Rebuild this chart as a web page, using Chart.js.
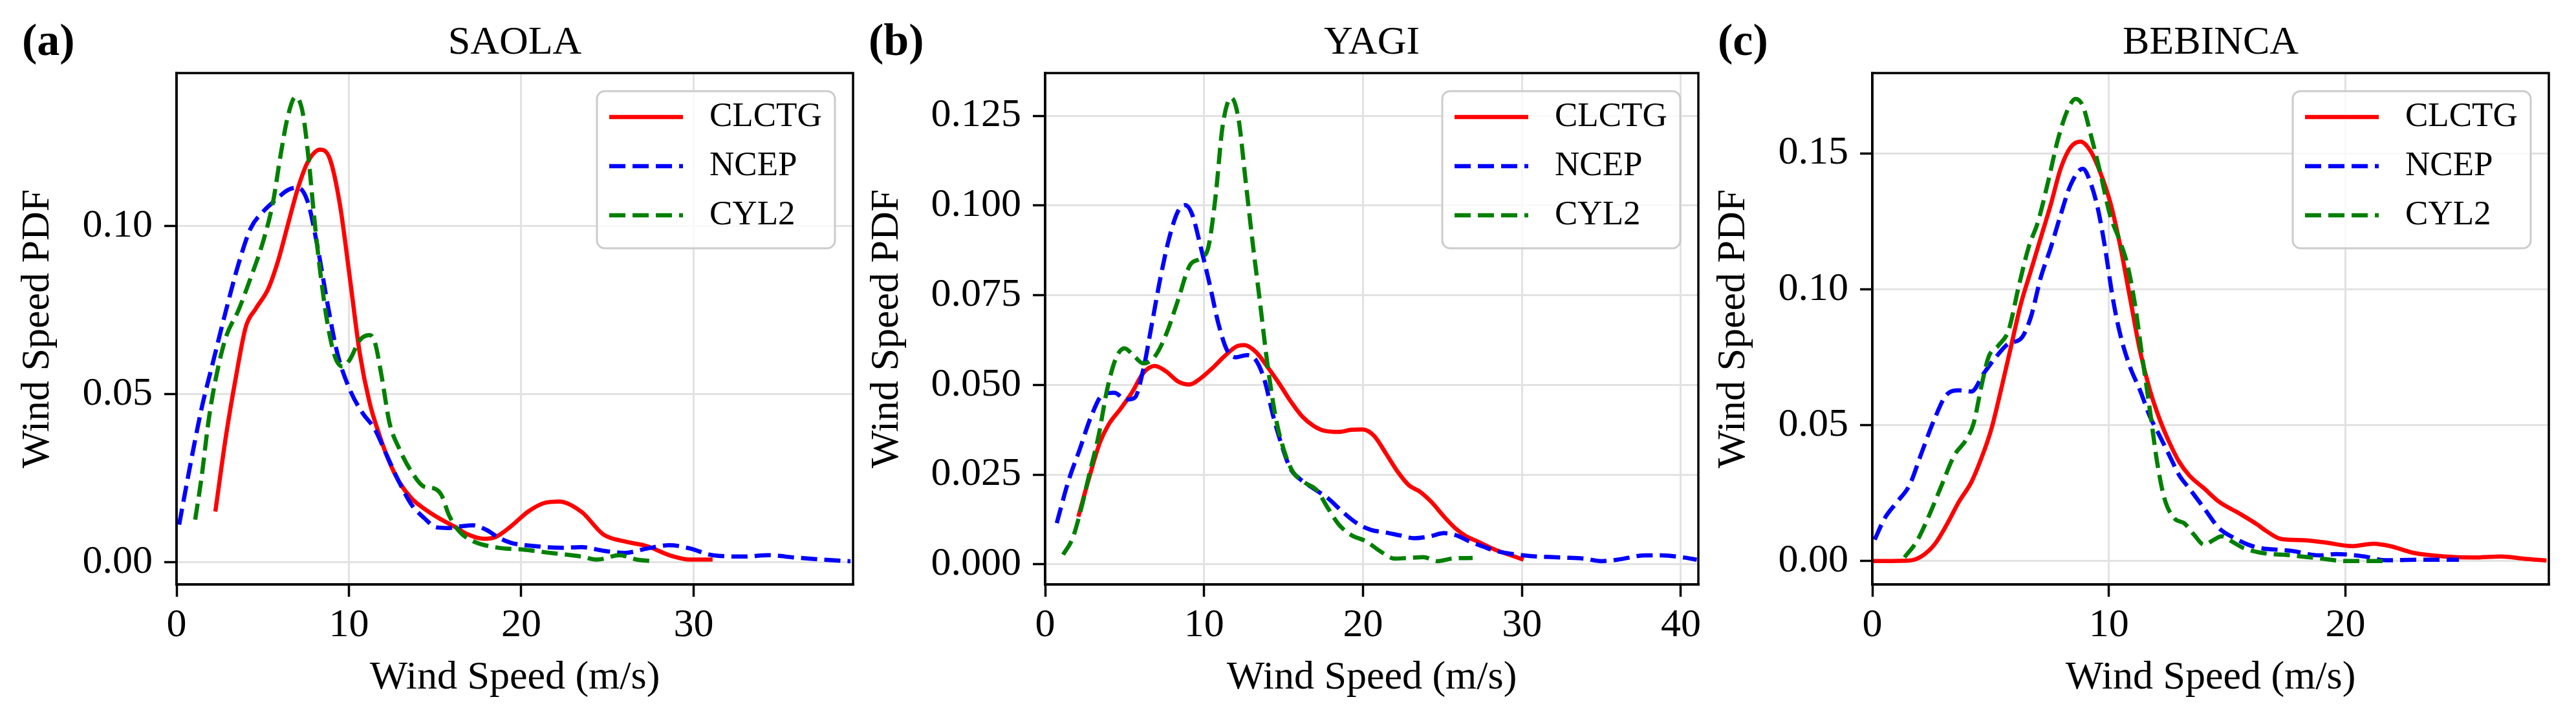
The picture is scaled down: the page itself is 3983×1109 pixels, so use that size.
<!DOCTYPE html>
<html>
<head>
<meta charset="utf-8">
<title>Wind Speed PDF</title>
<script src="https://cdn.jsdelivr.net/npm/chart.js@4.4.1/dist/chart.umd.min.js"></script>
<style>
  html, body { margin: 0; padding: 0; background: #fff; }
  body { width: 3983px; height: 1109px; position: relative; overflow: hidden; }
  canvas { position: absolute; top: 0; }
</style>
</head>
<body>
<canvas id="saola" width="1330" height="1109" style="left:0px"></canvas>
<canvas id="yagi" width="1340" height="1109" style="left:1300px"></canvas>
<canvas id="bebinca" width="1363" height="1109" style="left:2620px"></canvas>
<script>
// ---- data (wind speed in m/s, pdf values) ----

// (a) SAOLA
const saolaClctgX = [2.25,2.87,3.45,4.02,4.6,5.31,5.89,6.46,7.04,7.61,8.33,8.9,9.48,10.05,10.63,11.2,11.78,12.35,12.92,13.64,14.36,15.2,16.1,16.9,17.8,18.5,19.4,20.4,21.3,22.2,23.5,24.76,26.0,27.3,28.6,29.8,31.1];
const saolaClctgY = [0.0151,0.0377,0.0553,0.0701,0.0755,0.0813,0.0897,0.1005,0.1113,0.1191,0.1228,0.1200,0.1064,0.0848,0.0622,0.0475,0.0377,0.0298,0.0239,0.0190,0.0160,0.0132,0.0107,0.0083,0.0070,0.0075,0.0107,0.0151,0.0176,0.0181,0.0150,0.0083,0.0062,0.0048,0.0021,0.0008,0.0008];
const saolaNcepX = [0.15,0.72,1.44,2.15,2.87,3.59,4.31,5.03,5.74,6.46,7.04,7.61,8.19,8.76,9.33,10.05,10.77,11.49,12.2,12.9,13.64,14.36,15.08,15.8,16.5,17.2,17.95,18.7,19.4,20.8,22.3,23.5,24.8,26.0,27.3,28.6,29.8,31.1,33.0,34.3,35.9,37.5,39.1];
const saolaNcepY = [0.0112,0.0269,0.0455,0.0603,0.0750,0.0887,0.0995,0.1044,0.1078,0.1108,0.1115,0.1073,0.0936,0.0769,0.0622,0.0514,0.0446,0.0397,0.0318,0.0240,0.0171,0.0132,0.0104,0.0102,0.0107,0.0110,0.0097,0.0073,0.0058,0.0048,0.0043,0.0045,0.0034,0.0028,0.0041,0.0051,0.0041,0.0021,0.0017,0.0021,0.0014,0.0008,0.0003];
const saolaCyl2X = [1.08,1.44,1.87,2.3,2.87,3.59,4.31,5.03,5.6,6.03,6.46,6.9,7.32,7.68,7.97,8.33,8.76,9.19,9.62,10.05,10.63,11.2,11.5,11.9,12.35,12.92,13.64,14.36,14.93,15.37,15.8,16.4,17.2,18.7,20.1,21.5,22.4,23.5,24.4,25.7,26.7,27.5];
const saolaCyl2Y = [0.0127,0.0249,0.0426,0.0553,0.0671,0.0750,0.0848,0.0956,0.1073,0.1210,0.1328,0.1385,0.1338,0.1191,0.1034,0.0867,0.0710,0.0612,0.0583,0.0603,0.0661,0.0676,0.0656,0.0553,0.0416,0.0338,0.0269,0.0225,0.0220,0.0200,0.0141,0.0092,0.0063,0.0043,0.0038,0.0029,0.0024,0.0017,0.0008,0.0021,0.0008,0.0004];

// (b) YAGI
const yagiClctgX = [2.09,2.81,3.45,4.0,4.72,5.45,6.17,6.9,7.63,8.35,9.08,9.8,10.53,11.26,11.99,12.53,13.26,13.98,14.71,15.44,16.16,16.89,17.6,18.5,19.25,19.97,20.7,21.4,22.2,22.9,23.6,24.3,25.1,25.8,26.5,27.2,28.3,29.2,30.1];
const yagiClctgY = [0.0133,0.0248,0.0340,0.0390,0.0432,0.0478,0.0533,0.0553,0.0537,0.0510,0.0501,0.0519,0.0547,0.0579,0.0606,0.0611,0.0592,0.0551,0.0505,0.0455,0.0413,0.0386,0.0372,0.0369,0.0375,0.0376,0.0358,0.0312,0.0257,0.0220,0.0202,0.0174,0.0133,0.0101,0.0078,0.0064,0.0041,0.0027,0.0013];
const yagiNcepX = [0.73,1.45,2.18,2.9,3.63,4.36,5.08,5.63,6.17,6.72,7.26,7.81,8.35,8.81,9.26,9.8,10.35,10.9,11.44,11.99,12.71,13.26,13.8,14.35,14.9,15.44,16.0,16.9,17.8,18.7,19.6,20.5,21.4,22.3,23.2,24.2,25.1,25.8,26.7,27.6,28.3,30.1,32.5,33.9,35.0,36.0,37.8,38.8,40.2,41.0];
const yagiNcepY = [0.0115,0.0230,0.0321,0.0413,0.0473,0.0478,0.0459,0.0464,0.0542,0.0671,0.0800,0.0910,0.0983,0.1001,0.0974,0.0882,0.0781,0.0671,0.0597,0.0577,0.0583,0.0569,0.0514,0.0413,0.0330,0.0266,0.0239,0.0211,0.0184,0.0147,0.0115,0.0096,0.0089,0.0081,0.0073,0.0078,0.0087,0.0082,0.0064,0.0049,0.0038,0.0025,0.0019,0.0016,0.0009,0.0013,0.0025,0.0025,0.0019,0.0013];
const yagiCyl2X = [1.13,1.73,2.27,2.81,3.36,3.9,4.45,4.99,5.54,6.17,6.9,7.63,8.35,9.08,9.8,10.26,10.71,11.17,11.71,12.17,12.62,13.07,13.53,13.98,14.53,15.07,15.6,16.3,17.1,17.8,18.5,19.25,20.2,21.1,22.0,22.9,23.8,24.7,25.6,26.9];
const yagiCyl2Y = [0.0027,0.0073,0.0156,0.0257,0.0358,0.0487,0.0574,0.0602,0.0583,0.0560,0.0579,0.0643,0.0735,0.0831,0.0854,0.0882,0.1020,0.1222,0.1300,0.1240,0.1066,0.0891,0.0726,0.0560,0.0404,0.0312,0.0257,0.0229,0.0206,0.0156,0.0110,0.0082,0.0064,0.0036,0.0016,0.0018,0.0020,0.0009,0.0016,0.0018];

// (c) BEBINCA
const bebincaClctgX = [0,1.57,2.09,2.62,3.14,3.66,4.19,4.6,5.03,5.44,5.86,6.28,6.7,7.12,7.54,7.96,8.38,8.8,9.21,9.63,10.05,10.47,10.89,11.31,11.73,12.15,12.56,12.98,13.4,14.03,14.66,15.5,16.3,16.6,17.3,18.2,19.1,20.3,21.2,21.9,22.9,24.2,25.4,26.6,27.5,28.5];
const bebincaClctgY = [0,0.0002,0.0018,0.0060,0.0133,0.0218,0.0291,0.0376,0.0485,0.0630,0.0788,0.0946,0.1067,0.1189,0.1310,0.1443,0.1522,0.1543,0.1510,0.1431,0.1322,0.1164,0.0970,0.0776,0.0630,0.0521,0.0436,0.0364,0.0315,0.0267,0.0218,0.0176,0.0133,0.0114,0.0081,0.0077,0.0069,0.0055,0.0064,0.0055,0.0030,0.0017,0.0013,0.0017,0.0009,0.0002];
const bebincaNcepX = [0.1,0.52,1.05,1.57,2.09,2.62,3.14,3.66,4.19,4.71,5.24,5.76,6.28,6.7,7.12,7.54,7.96,8.38,8.9,9.21,9.53,9.84,10.16,10.47,10.89,11.31,11.73,12.15,12.56,12.98,13.4,14.03,14.66,15.3,15.9,16.4,17.7,18.9,19.6,20.8,21.7,23.1,24.8];
const bebincaNcepY = [0.0079,0.0157,0.0218,0.0279,0.0400,0.0521,0.0612,0.0628,0.0624,0.0690,0.0752,0.0800,0.0818,0.0897,0.1043,0.1152,0.1273,0.1383,0.1443,0.1395,0.1298,0.1152,0.0970,0.0837,0.0715,0.0630,0.0533,0.0460,0.0388,0.0315,0.0267,0.0194,0.0121,0.0085,0.0060,0.0048,0.0038,0.0021,0.0026,0.0017,0.0003,0.0005,0.0005];
const bebincaCyl2X = [1.36,1.88,2.41,2.93,3.46,3.98,4.29,4.61,4.92,5.34,5.76,6.18,6.6,7.01,7.43,7.85,8.27,8.59,8.9,9.21,9.63,10.05,10.47,10.78,11.1,11.41,11.73,12.04,12.35,12.77,13.19,13.6,14.03,14.45,14.76,15.18,15.7,16.4,17.7,18.9,20.0,21.4,21.8];
const bebincaCyl2Y = [0.0014,0.0073,0.0170,0.0279,0.0388,0.0448,0.0509,0.0643,0.0752,0.0794,0.0849,0.1007,0.1152,0.1250,0.1395,0.1552,0.1662,0.1700,0.1674,0.1577,0.1431,0.1273,0.1176,0.1091,0.0946,0.0752,0.0558,0.0364,0.0230,0.0157,0.0139,0.0097,0.0060,0.0079,0.0091,0.0073,0.0048,0.0031,0.0021,0.0010,0.0000,0.0000,0.0000];

// axis ticks and limits
const saolaXTicks = [0, 10, 20, 30];
const saolaYTicks = [0, 0.05, 0.10];
const saolaXRange = [0, 39.25];
const saolaYRange = [-0.0066, 0.1456];

const yagiXTicks = [0, 10, 20, 30, 40];
const yagiYTicks = [0, 0.025, 0.05, 0.075, 0.10, 0.125];
const yagiXRange = [0, 41.1];
const yagiYRange = [-0.0056, 0.1369];

const bebincaXTicks = [0, 10, 20];
const bebincaYTicks = [0, 0.05, 0.10, 0.15];
const bebincaXRange = [0, 28.6];
const bebincaYRange = [-0.0086, 0.1795];

const seriesNames = ['CLCTG', 'NCEP', 'CYL2'];

// ---- styling ----
const FONT = "'Liberation Serif', 'Times New Roman', serif";
const LINE_STYLES = [
  { color: '#ff0000', dash: [] },
  { color: '#0000ff', dash: [25, 11] },
  { color: '#008000', dash: [25, 11] }
];

// draws the matplotlib-like box, the legend, the title and the panel letter
const panelDecor = {
  id: 'panelDecor',
  afterDatasetsDraw(chart, args, opts) {
    const ctx = chart.ctx;
    const a = chart.chartArea;
    ctx.save();

    // full frame around the plot
    ctx.strokeStyle = '#000';
    ctx.lineWidth = 3.5;
    ctx.strokeRect(a.left, a.top, a.right - a.left, a.bottom - a.top);

    // legend box
    const w = 368, h = 243;
    const lx = a.right - opts.legendInset - w;
    const ly = a.top + 28;
    ctx.beginPath();
    ctx.roundRect(lx, ly, w, h, 12);
    ctx.fillStyle = 'rgba(255,255,255,0.8)';
    ctx.fill();
    ctx.strokeStyle = '#cccccc';
    ctx.lineWidth = 3;
    ctx.stroke();

    chart.data.datasets.forEach((ds, i) => {
      const y = ly + 40 + i * 76;
      ctx.beginPath();
      ctx.setLineDash(ds.borderDash || []);
      ctx.strokeStyle = ds.borderColor;
      ctx.lineWidth = ds.borderWidth;
      ctx.moveTo(lx + 19, y);
      ctx.lineTo(lx + 133, y);
      ctx.stroke();
      ctx.setLineDash([]);
      ctx.fillStyle = '#000';
      ctx.font = '53px ' + FONT;
      ctx.textAlign = 'left';
      ctx.textBaseline = 'middle';
      ctx.fillText(ds.label, lx + 174, y);
    });

    // title over the plot and the panel letter
    ctx.fillStyle = '#000';
    ctx.textBaseline = 'alphabetic';
    ctx.font = '62px ' + FONT;
    ctx.textAlign = 'center';
    ctx.fillText(opts.title, (a.left + a.right) / 2, 83);
    ctx.font = 'bold 70px ' + FONT;
    ctx.textAlign = 'left';
    ctx.fillText(opts.letter, opts.letterX, 85);

    ctx.restore();
  }
};

function makePanel(id, xs, ys, cfg) {
  const datasets = seriesNames.map((name, i) => ({
    label: name,
    data: xs[i].map((x, j) => ({ x: x, y: ys[i][j] })),
    borderColor: LINE_STYLES[i].color,
    borderDash: LINE_STYLES[i].dash,
    borderWidth: 6.5,
    pointRadius: 0,
    fill: false,
    cubicInterpolationMode: 'monotone',
    order: 3 - i // CYL2 on top, like the original
  }));

  const tickFont = { family: FONT, size: 62 };
  const grid = {
    color: '#e2e2e2',
    lineWidth: 3,
    drawTicks: true,
    tickLength: 19,
    tickColor: '#000',
    tickWidth: 3.5
  };

  new Chart(document.getElementById(id), {
    type: 'line',
    data: { datasets: datasets },
    options: {
      responsive: false,
      animation: false,
      devicePixelRatio: 1,
      layout: { padding: { top: 113, right: cfg.padRight, left: 0, bottom: 0 } },
      plugins: {
        legend: { display: false },
        tooltip: { enabled: false },
        title: { display: false },
        panelDecor: { title: cfg.title, letter: cfg.letter, letterX: cfg.letterX, legendInset: 28 }
      },
      scales: {
        x: {
          type: 'linear',
          min: cfg.xRange[0],
          max: cfg.xRange[1],
          afterBuildTicks: s => { s.ticks = cfg.xTicks.map(v => ({ value: v })); },
          afterFit: s => { s.height = 205; },
          ticks: { font: tickFont, color: '#000', padding: 8, maxRotation: 0, autoSkip: false, callback: v => String(v) },
          grid: grid,
          border: { display: true, color: '#000', width: 3.5 },
          title: { display: true, text: 'Wind Speed (m/s)', font: tickFont, color: '#000', padding: { top: 0, bottom: 22.8 } }
        },
        y: {
          min: cfg.yRange[0],
          max: cfg.yRange[1],
          afterBuildTicks: s => { s.ticks = cfg.yTicks.map(v => ({ value: v })); },
          afterFit: s => { s.width = cfg.yWidth; },
          ticks: { font: tickFont, color: '#000', padding: 18, autoSkip: false, callback: v => v.toFixed(cfg.yDigits) },
          grid: grid,
          border: { display: true, color: '#000', width: 3.5 },
          title: { display: true, text: 'Wind Speed PDF', font: tickFont, color: '#000', padding: { top: cfg.yTitlePad, bottom: 0 } }
        }
      }
    },
    plugins: [panelDecor]
  });
}

makePanel('saola',
  [saolaClctgX, saolaNcepX, saolaCyl2X],
  [saolaClctgY, saolaNcepY, saolaCyl2Y],
  { title: 'SAOLA', letter: '(a)', letterX: 34, xTicks: saolaXTicks, yTicks: saolaYTicks,
    xRange: saolaXRange, yRange: saolaYRange, yDigits: 2, yWidth: 273, yTitlePad: 21.8, padRight: 11 });

makePanel('yagi',
  [yagiClctgX, yagiNcepX, yagiCyl2X],
  [yagiClctgY, yagiNcepY, yagiCyl2Y],
  { title: 'YAGI', letter: '(b)', letterX: 43, xTicks: yagiXTicks, yTicks: yagiYTicks,
    xRange: yagiXRange, yRange: yagiYRange, yDigits: 3, yWidth: 316, yTitlePad: 34.3, padRight: 14 });

makePanel('bebinca',
  [bebincaClctgX, bebincaNcepX, bebincaCyl2X],
  [bebincaClctgY, bebincaNcepY, bebincaCyl2Y],
  { title: 'BEBINCA', letter: '(c)', letterX: 36, xTicks: bebincaXTicks, yTicks: bebincaYTicks,
    xRange: bebincaXRange, yRange: bebincaYRange, yDigits: 2, yWidth: 275, yTitlePad: 23.3, padRight: 42 });
</script>
</body>
</html>
